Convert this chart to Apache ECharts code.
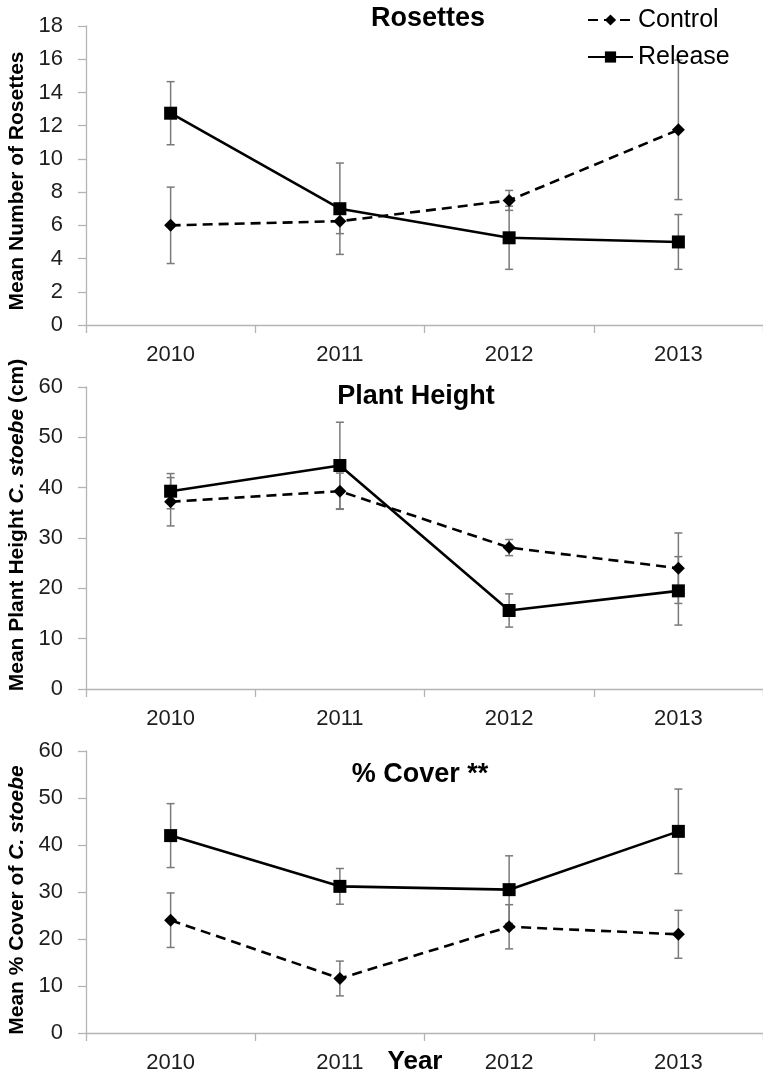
<!DOCTYPE html>
<html>
<head>
<meta charset="utf-8">
<script src="https://cdn.jsdelivr.net/npm/echarts@6/dist/echarts.min.js"></script>
<style>
html,body{margin:0;padding:0;background:#fff;}
#chart{width:763px;height:1075px;}
</style>
</head>
<body>
<div id="chart"></div>
<script>
// ---- data ----
var years = ['2010', '2011', '2012', '2013'];

var rosettesControl = [6.0, 6.25, 7.5, 11.75];
var rosettesControlErr = [2.3, 0.75, 0.6, 4.2];
var rosettesRelease = [12.75, 7.0, 5.25, 5.0];
var rosettesReleaseErr = [1.9, 2.75, 1.9, 1.65];

var heightControl = [37.2, 39.3, 28.1, 24.0];
var heightControlErr = [4.8, 3.6, 1.6, 7.0];
var heightRelease = [39.3, 44.4, 15.6, 19.5];
var heightReleaseErr = [3.5, 8.6, 3.3, 6.8];

var coverControl = [24.0, 11.6, 22.6, 21.0];
var coverControlErr = [5.8, 3.7, 4.7, 5.1];
var coverRelease = [42.0, 31.2, 30.5, 42.9];
var coverReleaseErr = [6.8, 3.8, 7.2, 9.0];

var panelTitles = ['Rosettes', 'Plant Height', '% Cover **'];
var yTitles = ['Mean Number of Rosettes', 'Mean Plant Height {i|C. stoebe} (cm)', 'Mean % Cover of {i|C. stoebe}'];
var yMax = [18, 60, 60];
var yStep = [2, 10, 10];
var xTitle = 'Year';

// ---- build ----
var FONT = 'Liberation Sans';
var axisColor = '#b4b4b4';
var grids = [
  {left: 86, width: 683, top: 26, height: 299},
  {left: 86, width: 683, top: 387, height: 302},
  {left: 86, width: 683, top: 751, height: 282}
];
var xAxes = [], yAxes = [];
grids.forEach(function (g, i) {
  xAxes.push({
    type: 'category', gridIndex: i, data: years, boundaryGap: true,
    axisLine: {show: true, lineStyle: {color: axisColor, width: 1.3}},
    axisTick: {show: true, length: 8, lineStyle: {color: axisColor, width: 1.3}},
    axisLabel: {fontFamily: FONT, fontSize: 22, color: '#1e1e1e', margin: 19, lineHeight: 22},
    splitLine: {show: false}
  });
  yAxes.push({
    type: 'value', gridIndex: i, min: 0, max: yMax[i], interval: yStep[i],
    axisLine: {show: true, lineStyle: {color: axisColor, width: 1.3}},
    axisTick: {show: true, length: 8, lineStyle: {color: axisColor, width: 1.3}},
    axisLabel: {fontFamily: FONT, fontSize: 22, color: '#1e1e1e', margin: 23},
    splitLine: {show: false}
  });
});

function errData(mean, err) {
  return mean.map(function (m, i) { return [i, m - err[i], m + err[i]]; });
}
function errSeries(name, idx, mean, err) {
  return {
    type: 'custom', name: name, xAxisIndex: idx, yAxisIndex: idx, z: 1,
    silent: true,
    data: errData(mean, err),
    encode: {x: 0, y: [1, 2]},
    renderItem: function (params, api) {
      var x = api.value(0);
      var lo = api.coord([x, api.value(1)]);
      var hi = api.coord([x, api.value(2)]);
      var cw = 4;
      var st = {stroke: '#7a7a7a', lineWidth: 1.5};
      return {
        type: 'group',
        children: [
          {type: 'line', shape: {x1: lo[0], y1: lo[1], x2: hi[0], y2: hi[1]}, style: st},
          {type: 'line', shape: {x1: lo[0] - cw, y1: lo[1], x2: lo[0] + cw, y2: lo[1]}, style: st},
          {type: 'line', shape: {x1: hi[0] - cw, y1: hi[1], x2: hi[0] + cw, y2: hi[1]}, style: st}
        ]
      };
    }
  };
}
function controlSeries(idx, data) {
  return {
    type: 'line', name: 'Control', xAxisIndex: idx, yAxisIndex: idx, z: 3,
    data: data, symbol: 'diamond', symbolSize: 13,
    itemStyle: {color: '#000'},
    lineStyle: {color: '#000', width: 2.6, type: [10, 6]},
    animation: false
  };
}
function releaseSeries(idx, data) {
  return {
    type: 'line', name: 'Release', xAxisIndex: idx, yAxisIndex: idx, z: 3,
    data: data, symbol: 'rect', symbolSize: 13,
    itemStyle: {color: '#000'},
    lineStyle: {color: '#000', width: 2.6, type: 'solid'},
    animation: false
  };
}

var series = [
  errSeries('Control SE 1', 0, rosettesControl, rosettesControlErr),
  errSeries('Release SE 1', 0, rosettesRelease, rosettesReleaseErr),
  controlSeries(0, rosettesControl),
  releaseSeries(0, rosettesRelease),
  errSeries('Control SE 2', 1, heightControl, heightControlErr),
  errSeries('Release SE 2', 1, heightRelease, heightReleaseErr),
  controlSeries(1, heightControl),
  releaseSeries(1, heightRelease),
  errSeries('Control SE 3', 2, coverControl, coverControlErr),
  errSeries('Release SE 3', 2, coverRelease, coverReleaseErr),
  controlSeries(2, coverControl),
  releaseSeries(2, coverRelease)
];

var titlePos = [[428, 19], [416, 397], [420, 775]];
var yTitlePos = [181, 525, 900];
var graphics = [];
panelTitles.forEach(function (t, i) {
  graphics.push({
    type: 'text', x: titlePos[i][0], y: titlePos[i][1], z: 10,
    style: {text: t, fontFamily: FONT, fontWeight: 'bold', fontSize: 27, fill: '#000',
      align: 'center', verticalAlign: 'middle'}
  });
});
yTitles.forEach(function (t, i) {
  graphics.push({
    type: 'text', x: 17, y: yTitlePos[i], rotation: Math.PI / 2, z: 10,
    style: {text: t, fontFamily: FONT, fontWeight: 'bold', fontSize: 21, fill: '#000',
      align: 'center', verticalAlign: 'middle',
      rich: {i: {fontFamily: FONT, fontWeight: 'bold', fontStyle: 'italic', fontSize: 21, fill: '#000'}}}
  });
});
graphics.push({
  type: 'text', x: 415, y: 1062, z: 10,
  style: {text: xTitle, fontFamily: FONT, fontWeight: 'bold', fontSize: 26, fill: '#000',
    align: 'center', verticalAlign: 'middle'}
});

var chart = echarts.init(document.getElementById('chart'), null, {renderer: 'canvas'});
chart.setOption({
  animation: false,
  backgroundColor: '#fff',
  grid: grids,
  xAxis: xAxes,
  yAxis: yAxes,
  legend: {
    data: ['Control', 'Release'], orient: 'vertical', left: 582, top: 2,
    itemWidth: 45, itemHeight: 14, itemGap: 11,
    textStyle: {fontFamily: FONT, fontSize: 25, color: '#000', lineHeight: 26}
  },
  graphic: graphics,
  series: series
});
</script>
</body>
</html>
